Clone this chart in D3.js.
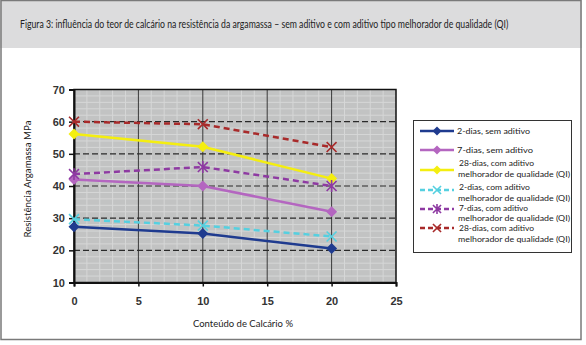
<!DOCTYPE html>
<html><head><meta charset="utf-8">
<script src="https://cdn.jsdelivr.net/npm/d3@7"></script>
<style>body{margin:0;background:#fff}svg{display:block}</style>
</head><body>
<script>
const xValues = [0, 10, 20];
const s2dSem = [27.3, 25.2, 20.6];
const s7dSem = [42.0, 40.0, 32.0];
const s28dQI = [56.2, 52.2, 42.3];
const s2dQI = [29.7, 27.7, 24.3];
const s7dQI = [43.7, 45.9, 40.0];
const s28dQI2 = [60.0, 59.2, 52.1];
const seriesNames = ["2-dias, sem aditivo","7-dias, sem aditivo","28-dias, com aditivo melhorador de qualidade (QI)","2-dias, com aditivo melhorador de qualidade (QI)","7-dias, com aditivo melhorador de qualidade (QI)","28-dias, com aditivo melhorador de qualidade (QI)"];
const xTicks = [0,5,10,15,20,25];
const yTicks = [10,20,30,40,50,60,70];
const titleText = "Figura 3: influência do teor de calcário na resistência da argamassa – sem aditivo e com aditivo tipo melhorador de qualidade (QI)";

const series = [
  {name: seriesNames[0], vals: s2dSem, color:"#1f3b8f", dash:null, marker:"diamond"},
  {name: seriesNames[1], vals: s7dSem, color:"#b466c0", dash:null, marker:"diamond"},
  {name: seriesNames[2], vals: s28dQI, color:"#f4ee10", dash:null, marker:"diamond"},
  {name: seriesNames[3], vals: s2dQI, color:"#55d0e0", dash:"6,4", marker:"x"},
  {name: seriesNames[4], vals: s7dQI, color:"#8e3aa2", dash:"6,4", marker:"star"},
  {name: seriesNames[5], vals: s28dQI2, color:"#a82a2a", dash:"6,4", marker:"x"}
];

const W=586,H=345;
const svg=d3.select("body").append("svg").attr("width",W).attr("height",H);
const narrow="Liberation Sans Narrow, Lato, sans-serif";
// frame
svg.append("rect").attr("x",0).attr("y",0).attr("width",582).attr("height",48).attr("fill","#dcdcdd");
svg.append("rect").attr("x",1).attr("y",0.5).attr("width",580).attr("height",339).attr("fill","none").attr("stroke","#7a7a7a").attr("stroke-width",1.5);
const tg=svg.append("g");
const tt=tg.append("text").attr("x",0).attr("y",0)
  .attr("font-family",narrow).attr("font-size",10.5).attr("fill","#222").text(titleText);
const tlen=tt.node().getComputedTextLength();
tg.attr("transform",`translate(20,28) scale(${489/tlen},1)`);

const x=d3.scaleLinear().domain([0,25]).range([74,396]);
const y=d3.scaleLinear().domain([10,70]).range([282.5,89.5]);
const g=svg.append("g");
g.append("rect").attr("x",x(0)).attr("y",y(70)).attr("width",x(25)-x(0)).attr("height",y(10)-y(70)).attr("fill","#c2c3c3");
// minor grid
g.selectAll(".mv").data(d3.range(1,25).filter(v=>v%5)).enter().append("line")
 .attr("x1",d=>x(d)).attr("x2",d=>x(d)).attr("y1",y(70)).attr("y2",y(10)).attr("stroke","#d6d7d7").attr("stroke-width",1);
g.selectAll(".mh").data(d3.range(12,70,2).filter(v=>v%10)).enter().append("line")
 .attr("y1",d=>y(d)).attr("y2",d=>y(d)).attr("x1",x(0)).attr("x2",x(25)).attr("stroke","#d6d7d7").attr("stroke-width",1);
// major grid
g.selectAll(".Mv").data([5,10,15,20]).enter().append("line")
 .attr("x1",d=>x(d)).attr("x2",d=>x(d)).attr("y1",y(70)).attr("y2",y(10)).attr("stroke","#3a3a3a").attr("stroke-width",1);
g.selectAll(".Mh").data([20,30,40,50,60]).enter().append("line")
 .attr("y1",d=>y(d)).attr("y2",d=>y(d)).attr("x1",x(0)).attr("x2",x(25)).attr("stroke","#2a2a2a").attr("stroke-width",1.2).attr("stroke-dasharray","6,3");
g.append("rect").attr("x",x(0)).attr("y",y(70)).attr("width",x(25)-x(0)).attr("height",y(10)-y(70)).attr("fill","none").attr("stroke","#111").attr("stroke-width",1.5);

// axes
const yAxis=d3.axisLeft(y).tickValues(yTicks).tickSize(5).tickPadding(4);
const ya=svg.append("g").attr("transform",`translate(${x(0)},0)`).call(yAxis);
const xAxis=d3.axisBottom(x).tickValues(xTicks).tickSize(4).tickPadding(11);
const xa=svg.append("g").attr("transform",`translate(0,${y(10)})`).call(xAxis);
[ya,xa].forEach(a=>{a.select(".domain").attr("stroke","#111").attr("stroke-width",2);
 a.selectAll(".tick line").attr("stroke","#111").attr("stroke-width",1.5);
 a.selectAll("text").attr("font-family","Liberation Sans, Arial, sans-serif").attr("font-size",11).attr("font-weight","bold").attr("fill","#333");});

svg.append("text").attr("x",243).attr("y",327).attr("text-anchor","middle").attr("font-family",narrow).attr("font-size",9.5).attr("fill","#222")
  .attr("textLength",100).attr("lengthAdjust","spacingAndGlyphs").text("Conteúdo de Calcário %");
svg.append("text").attr("transform","translate(31,179) rotate(-90)").attr("text-anchor","middle").attr("font-family",narrow).attr("font-size",9).attr("fill","#222")
  .attr("textLength",117).attr("lengthAdjust","spacingAndGlyphs").text("Resistência Argamassa MPa");

function drawMarker(sel,type,cx,cy,color,size){
  if(type==="diamond"){
    sel.append("path").attr("d",`M${cx},${cy-size}L${cx+size},${cy}L${cx},${cy+size}L${cx-size},${cy}Z`).attr("fill",color);
  } else {
    const s=size*0.9;
    sel.append("path").attr("d",`M${cx-s},${cy-s}L${cx+s},${cy+s}M${cx-s},${cy+s}L${cx+s},${cy-s}`+(type==="star"?`M${cx},${cy-s-1}L${cx},${cy+s+1}`:"")).attr("stroke",color).attr("stroke-width",1.6).attr("fill","none");
  }
}
const line=d3.line().x((d,i)=>x(xValues[i])).y(d=>y(d));
const sg=svg.append("g");
series.forEach(s=>{
  sg.append("path").datum(s.vals).attr("d",line).attr("fill","none").attr("stroke",s.color).attr("stroke-width",2.5).attr("stroke-dasharray",s.dash);
  s.vals.forEach((v,i)=>drawMarker(sg,s.marker,x(xValues[i]),y(v),s.color,5.5));
});

// legend
const lg=svg.append("g");
lg.append("rect").attr("x",413.5).attr("y",120.5).attr("width",158).attr("height",132).attr("fill","#fff").attr("stroke","#333").attr("stroke-width",1);
const legY=[131,150,170,190,209,228];
const textBase=[[134],[153],[166,176.5],[190,200.5],[211,221],[231,241.5]];
const firstW=[73,76,75,71,69,75];
series.forEach((s,i)=>{
  const cy=legY[i];
  lg.append("line").attr("x1",420).attr("x2",454).attr("y1",cy).attr("y2",cy).attr("stroke",s.color).attr("stroke-width",2.5).attr("stroke-dasharray",s.dash?"5,3":null);
  drawMarker(lg,s.marker,437,cy,s.color,4.5);
  const mk=(tx,ty,w,str)=>lg.append("text").attr("font-family",narrow).attr("font-size",8).attr("fill","#222")
      .attr("x",tx).attr("y",ty).attr("textLength",w).attr("lengthAdjust","spacingAndGlyphs").text(str);
  if(i<2){ mk(457,textBase[i][0],firstW[i],s.name); }
  else {
    const idx=s.name.indexOf(" melhorador");
    mk(459,textBase[i][0],firstW[i],s.name.slice(0,idx));
    mk(458,textBase[i][1],112,s.name.slice(idx+1));
  }
});
</script>
</body></html>
